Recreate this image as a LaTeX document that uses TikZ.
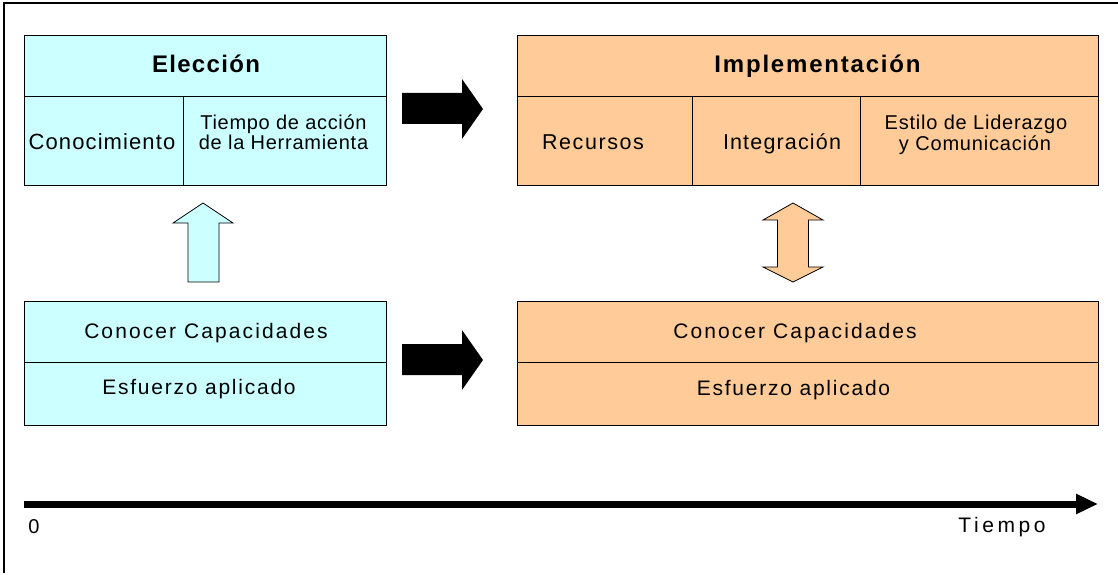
\documentclass[tikz,border=0pt]{standalone}
\usepackage{fontspec}
\setmainfont{Liberation Sans}
\usetikzlibrary{arrows.meta}
\definecolor{cyanfill}{HTML}{CCFFFF}
\definecolor{orangefill}{HTML}{FFCC99}
\newcommand\txt[3]{\fontsize{#1}{#1}\selectfont\addfontfeature{LetterSpace=#2}#3}
\begin{document}
\begin{tikzpicture}[x=1pt,y=-1pt,
  cellbase/.style={draw=black, line width=1pt, rectangle, inner sep=0pt, outer sep=0pt},
  cellc/.style={cellbase, fill=cyanfill},
  cello/.style={cellbase, fill=orangefill},
  lbl/.style={anchor=base, inner sep=0pt, outer sep=0pt, text=black},
  blackarrow/.style={fill=black},
  outlinearrow/.style={draw=black, line width=0.8pt, line join=miter},
  axisline/.style={line width=7pt, -{Triangle[length=22pt,width=19pt]}},
  frameline/.style={line width=2.5pt, line cap=butt},
]
\useasboundingbox (0,0) rectangle (1118,575);
% frame
\coordinate (fr0) at (4,573);
\coordinate (fr1) at (4,2.8);
\coordinate (fr2) at (1118,2.8);
\draw[frameline] (fr0) -- (fr1) -- (fr2);

% Eleccion box
\node[cellc, minimum width=362pt, minimum height=61pt] (elec) at (205,66.5) {};
\node[cellc, minimum width=159pt, minimum height=88pt] (conoc) at (103.5,141) {};
\node[cellc, minimum width=203pt, minimum height=88pt] (tiempo) at (284.5,141) {};
\node[lbl] (t-elec) at (206,73) {\bfseries\txt{24}{5.5}{Elección}};
\node[lbl] (t-conoc) at (102,149.5) {\txt{22}{5}{Conocimiento}};
\node[lbl] (t-tiempo1) at (283.5,129.5) {\txt{20}{3.5}{Tiempo de acción}};
\node[lbl] (t-tiempo2) at (283.5,149.5) {\txt{20}{3.7}{de la Herramienta}};

% Implementacion box
\node[cello, minimum width=581pt, minimum height=61pt] (impl) at (807.5,66.5) {};
\node[cello, minimum width=175pt, minimum height=88pt] (rec) at (604.5,141) {};
\node[cello, minimum width=168pt, minimum height=88pt] (integ) at (776,141) {};
\node[cello, minimum width=238pt, minimum height=88pt] (estilo) at (979,141) {};
\node[lbl] (t-impl) at (817.5,73) {\bfseries\txt{24}{7.5}{Implementación}};
\node[lbl] (t-rec) at (593,149.5) {\txt{21.5}{7.4}{Recursos}};
\node[lbl] (t-integ) at (782,149.5) {\txt{21.5}{5.4}{Integración}};
\node[lbl] (t-estilo1) at (976,129) {\txt{20}{3.9}{Estilo de Liderazgo}};
\node[lbl] (t-estilo2) at (975,150) {\txt{20}{4.1}{y Comunicación}};

% lower cyan box
\node[cellc, minimum width=362pt, minimum height=61.6pt] (capc) at (205,331.8) {};
\node[cellc, minimum width=362pt, minimum height=62.4pt] (esfc) at (205,393.8) {};
\node[lbl] (t-capc) at (206,338.5) {\txt{21}{10}{Conocer Capacidades}};
\node[lbl] (t-esfc) at (199,394.5) {\txt{21}{8.4}{Esfuerzo aplicado}};

% lower orange box
\node[cello, minimum width=581pt, minimum height=61.6pt] (capo) at (807.5,331.8) {};
\node[cello, minimum width=581pt, minimum height=62.4pt] (esfo) at (807.5,393.8) {};
\node[lbl] (t-capo) at (795,338.5) {\txt{21}{10}{Conocer Capacidades}};
\node[lbl] (t-esfo) at (793.5,395) {\txt{21}{8.4}{Esfuerzo aplicado}};

% black block arrows
\fill[blackarrow] (402,93) -- (462,93) -- (462,79) -- (483,109) -- (462,139) -- (462,124) -- (402,124) -- cycle;
\fill[blackarrow] (402,344) -- (462,344) -- (462,330) -- (483,360) -- (462,390) -- (462,375) -- (402,375) -- cycle;

% cyan up arrow
\filldraw[outlinearrow, fill=cyanfill] (188,282) -- (188,223) -- (173,223) -- (203,203) -- (233,223) -- (219,223) -- (219,282) -- cycle;

% orange double arrow
\filldraw[outlinearrow, fill=orangefill] (793,203) -- (823,220) -- (808.5,220) -- (808.5,267) -- (823,267) -- (793,282) -- (763,267) -- (777.5,267) -- (777.5,220) -- (763,220) -- cycle;

% time axis
\coordinate (ax0) at (24,504);
\coordinate (ax1) at (1098,504);
\draw[axisline] (ax0) -- (ax1);
\node[lbl] (t-zero) at (34,533) {\txt{20}{0}{0}};
\node[lbl] (t-time) at (1002,532.5) {\txt{21}{17}{Tiempo}};
\end{tikzpicture}
\end{document}
